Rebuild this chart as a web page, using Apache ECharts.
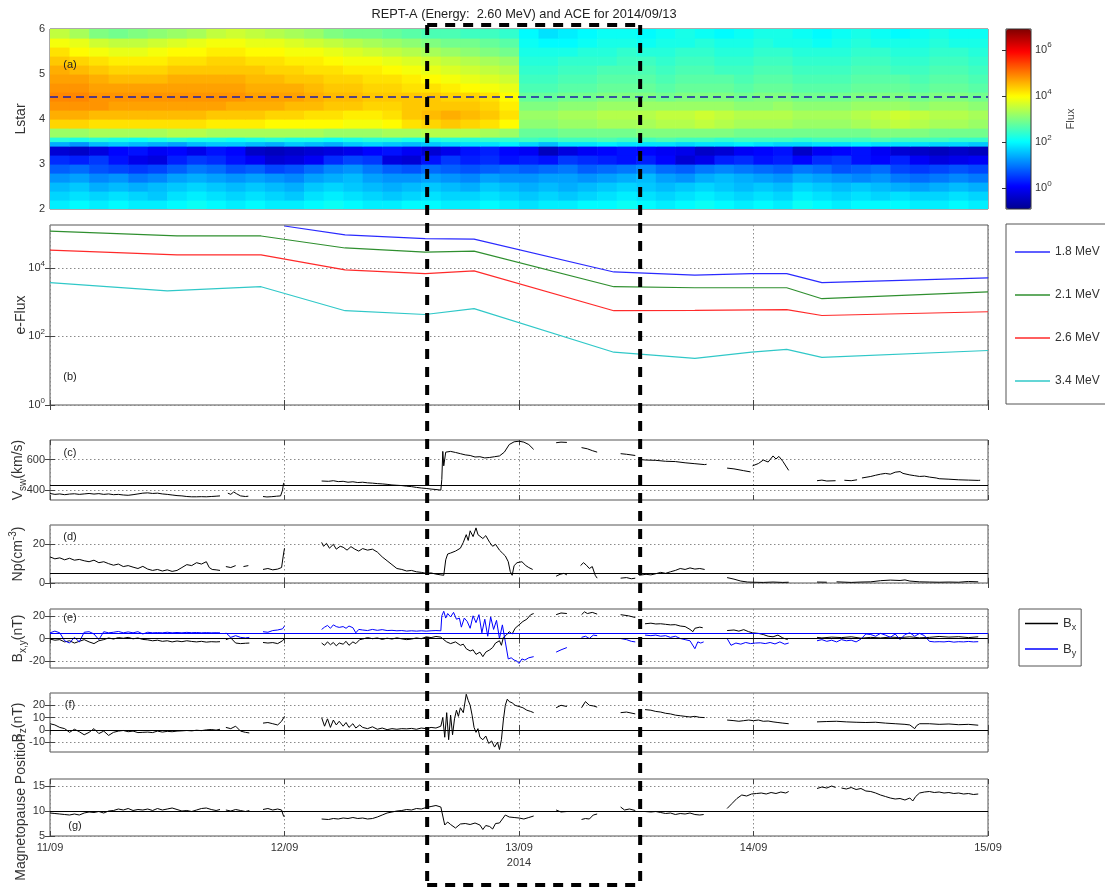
<!DOCTYPE html>
<html>
<head>
<meta charset="utf-8">
<script src="https://cdn.jsdelivr.net/npm/echarts@6/dist/echarts.min.js"></script>
<style>html,body{margin:0;padding:0;background:#fff}#chart{width:1105px;height:891px}</style>
</head>
<body>
<div id="chart"></div>
<script>
// ---------------- DATA ----------------
const titleText = 'REPT-A (Energy:  2.60 MeV) and ACE for 2014/09/13';
const dayTickHours = [0, 24, 48, 72, 96];
const dayTickLabels = ['11/09', '12/09', '13/09', '14/09', '15/09'];
const yearLabel = '2014';
const panelTags = ['(a)', '(b)', '(c)', '(d)', '(e)', '(f)', '(g)'];

// (a) Lstar vs time, log10(flux)
const lstarTicks = [2, 3, 4, 5, 6];
const lstarRef = 4.5;
const lstarEdges = [2.0, 2.2, 2.4, 2.6, 2.8, 3.0, 3.2, 3.4, 3.5, 3.6, 3.8, 4.0, 4.2, 4.4, 4.6, 4.8, 5.0, 5.2, 5.4, 5.6, 5.8, 6.0];
const fluxBinStartHours = [0,2,4,6,8,10,12,14,16,18,20,22,24,26,28,30,32,34,36,38,40,42,44,46,48,50,52,54,56,58,60,62,64,66,68,70,72,74,76,78,80,82,84,86,88,90,92,94];
const fluxBinHours = 2;
const fluxLogRows = [
  /* L 2.0-2.2 */ [1.9,2.0,1.9,2.0,1.9,1.9,2.0,2.1,2.0,1.9,2.0,1.9,1.9,2.0,2.1,2.0,1.9,1.9,2.0,2.0,1.9,1.9,2.0,1.9, 1.8,1.9,1.9,2.0,2.0,2.1,2.0,1.9,2.0,2.1,2.0,1.9,2.0,1.9,2.1,2.0,1.9,2.0,2.0,2.0,1.9,1.9,2.0,1.9],
  /* L 2.2-2.4 */ [1.7,1.8,1.7,1.8,1.7,1.6,1.8,1.9,1.8,1.7,1.8,1.7,1.6,1.8,1.9,1.8,1.7,1.6,1.7,1.8,1.7,1.7,1.8,1.7, 1.6,1.7,1.6,1.7,1.8,1.9,1.8,1.7,1.8,1.9,1.8,1.7,1.8,1.7,1.9,1.8,1.7,1.8,1.7,1.8,1.7,1.7,1.8,1.7],
  /* L 2.4-2.6 */ [1.5,1.6,1.4,1.5,1.4,1.5,1.6,1.7,1.6,1.5,1.6,1.5,1.4,1.6,1.7,1.6,1.5,1.4,1.5,1.6,1.5,1.4,1.6,1.5, 1.4,1.5,1.4,1.5,1.6,1.7,1.6,1.5,1.6,1.7,1.6,1.5,1.6,1.5,1.7,1.6,1.5,1.6,1.5,1.4,1.3,1.4,1.5,1.4],
  /* L 2.6-2.8 */ [1.2,1.3,1.1,1.2,1.0,1.1,1.3,1.4,1.3,1.2,1.3,1.2,1.1,1.3,1.4,1.5,1.3,1.2,1.2,1.3,1.2,1.1,1.3,1.2, 1.2,1.3,1.3,1.2,1.3,1.4,1.5,1.3,1.2,1.4,1.5,1.4,1.3,1.2,1.4,1.3,1.2,1.1,1.2,1.0,0.9,1.0,1.1,1.0],
  /* L 2.8-3.0 */ [0.8,0.9,0.7,0.6,0.5,0.6,0.8,1.0,0.9,0.7,0.8,0.6,0.7,0.9,1.1,1.2,1.0,0.8,0.7,0.9,0.8,0.7,0.8,0.9, 0.8,0.9,1.0,0.8,0.9,1.0,1.1,0.9,0.8,1.0,1.1,1.0,0.9,0.8,1.0,0.9,0.7,0.8,0.9,0.6,0.5,0.6,0.7,0.6],
  /* L 3.0-3.2 */ [0.4,0.3,0.5,0.2,-0.1,-0.2,0.3,0.5,0.4,0.2,0.0,-0.3,-0.2,0.0,0.4,0.6,0.5,-0.2,-0.3,0.2,0.5,0.3,0.4,0.2, 0.3,0.2,0.5,0.4,0.3,0.2,0.3,0.1,-0.3,-0.1,0.3,0.4,0.2,0.3,0.1,0.4,0.5,0.2,0.1,0.3,0.0,-0.2,-0.1,0.0],
  /* L 3.2-3.4 */ [-0.3,-0.4,-0.2,0.1,0.2,0.0,0.1,-0.1,0.2,0.1,-0.4,-0.5,-0.4,-0.3,-0.2,-0.1,0.1,0.2,0.0,-0.3,-0.1,0.2,0.3,0.1, 0.0,-0.5,-0.2,0.0,0.1,0.2,0.1,0.0,-0.1,-0.4,-0.3,0.0,0.1,0.2,-0.4,0.0,0.1,0.2,0.0,-0.3,-0.4,-0.5,-0.4,-0.5],
  /* L 3.4-3.5 */ [1.4,1.2,1.5,1.6,1.5,1.4,1.3,1.5,1.6,1.6,1.5,1.4,1.6,1.5,1.4,1.6,1.7,1.6,1.5,1.6,1.7,1.8,1.8,1.9, 1.7,1.5,1.8,1.8,1.9,1.8,1.8,1.8,1.7,1.8,1.8,1.9,1.8,1.7,1.7,1.8,1.8,1.9,1.8,1.8,1.8,1.7,1.7,1.6],
  /* L 3.5-3.6 */ [2.3,2.2,2.3,2.2,2.1,2.2,2.3,2.2,2.2,2.1,2.2,2.3,2.2,2.2,2.1,2.2,2.3,2.3,2.2,2.2,2.3,2.3,2.4,2.4, 2.5,2.4,2.5,2.5,2.6,2.5,2.5,2.6,2.5,2.5,2.4,2.5,2.5,2.5,2.4,2.5,2.5,2.5,2.6,2.5,2.5,2.5,2.4,2.4],
  /* L 3.6-3.8 */ [3.2,3.2,3.3,3.3,3.3,3.3,3.4,3.4,3.3,3.3,3.3,3.3,3.3,3.3,3.2,3.2,3.2,3.3,3.3,3.4,3.4,3.4,3.3,3.2, 2.8,2.8,2.9,2.9,2.9,2.9,3.0,3.0,3.0,3.0,3.0,2.9,2.9,2.9,2.9,2.9,2.9,2.9,3.0,3.0,3.0,2.9,2.9,2.9],
  /* L 3.8-4.0 */ [4.3,4.3,4.2,4.2,4.2,4.2,4.2,4.2,4.1,4.1,4.1,4.0,4.0,4.0,4.0,3.9,3.9,4.0,4.2,4.3,4.4,4.3,4.2,4.0, 3.1,3.1,3.2,3.2,3.3,3.3,3.3,3.4,3.4,3.5,3.4,3.3,3.3,3.3,3.2,3.2,3.2,3.3,3.4,3.5,3.4,3.3,3.3,3.2],
  /* L 4.0-4.2 */ [4.6,4.6,4.5,4.5,4.5,4.5,4.5,4.5,4.4,4.4,4.4,4.3,4.3,4.2,4.2,4.1,4.1,4.2,4.4,4.5,4.6,4.5,4.4,4.2, 3.2,3.2,3.3,3.3,3.4,3.4,3.4,3.5,3.5,3.6,3.5,3.4,3.4,3.4,3.3,3.3,3.3,3.4,3.5,3.6,3.5,3.4,3.4,3.3],
  /* L 4.2-4.4 */ [4.8,4.8,4.8,4.7,4.7,4.7,4.7,4.7,4.7,4.6,4.6,4.6,4.5,4.5,4.4,4.4,4.3,4.3,4.4,4.4,4.4,4.4,4.3,4.1, 3.0,3.0,3.1,3.1,3.2,3.2,3.2,3.2,3.2,3.2,3.2,3.1,3.1,3.2,3.1,3.1,3.1,3.2,3.2,3.2,3.1,3.2,3.2,3.1],
  /* L 4.4-4.6 */ [4.9,4.9,4.8,4.8,4.8,4.8,4.8,4.8,4.8,4.8,4.7,4.7,4.7,4.6,4.5,4.5,4.4,4.4,4.4,4.4,4.3,4.3,4.2,4.0, 2.8,2.8,2.9,2.9,3.0,3.0,3.0,2.9,3.0,3.0,3.0,2.9,3.0,3.0,2.9,2.9,2.9,3.0,3.0,3.0,2.9,3.0,3.0,2.9],
  /* L 4.6-4.8 */ [4.8,4.8,4.7,4.7,4.7,4.7,4.7,4.7,4.7,4.7,4.6,4.6,4.6,4.5,4.4,4.4,4.3,4.3,4.2,4.2,4.1,4.0,3.9,3.8, 2.6,2.6,2.7,2.7,2.8,2.8,2.8,2.7,2.8,2.8,2.8,2.7,2.8,2.8,2.7,2.7,2.7,2.8,2.8,2.8,2.7,2.8,2.8,2.7],
  /* L 4.8-5.0 */ [4.7,4.7,4.6,4.5,4.5,4.5,4.6,4.6,4.6,4.6,4.5,4.5,4.4,4.4,4.3,4.3,4.2,4.2,4.1,4.0,3.9,3.8,3.7,3.6, 2.5,2.5,2.6,2.6,2.7,2.7,2.7,2.6,2.7,2.7,2.7,2.6,2.7,2.7,2.6,2.6,2.6,2.7,2.7,2.7,2.6,2.7,2.7,2.6],
  /* L 5.0-5.2 */ [4.6,4.5,4.4,4.3,4.3,4.3,4.4,4.4,4.4,4.4,4.4,4.3,4.3,4.2,4.2,4.1,4.1,4.0,3.9,3.8,3.7,3.6,3.5,3.4, 2.4,2.4,2.5,2.5,2.6,2.6,2.6,2.5,2.6,2.6,2.5,2.5,2.6,2.6,2.5,2.5,2.5,2.6,2.6,2.5,2.5,2.6,2.6,2.5],
  /* L 5.2-5.4 */ [4.4,4.3,4.2,4.1,4.1,4.1,4.2,4.2,4.3,4.3,4.2,4.2,4.1,4.1,4.0,3.9,3.9,3.8,3.7,3.6,3.5,3.4,3.3,3.2, 2.3,2.3,2.4,2.4,2.4,2.5,2.5,2.4,2.5,2.5,2.4,2.4,2.5,2.5,2.4,2.4,2.4,2.5,2.5,2.4,2.4,2.5,2.5,2.4],
  /* L 5.4-5.6 */ [4.2,4.0,3.9,3.8,3.8,3.9,4.0,4.0,4.1,4.1,4.0,4.0,3.9,3.9,3.8,3.7,3.6,3.5,3.4,3.3,3.2,3.1,3.0,2.9, 2.2,2.2,2.2,2.3,2.3,2.4,2.3,2.3,2.4,2.4,2.3,2.3,2.4,2.4,2.3,2.3,2.3,2.4,2.4,2.3,2.3,2.4,2.4,2.3],
  /* L 5.6-5.8 */ [3.9,3.8,3.6,3.5,3.5,3.6,3.7,3.8,3.9,3.9,3.8,3.8,3.7,3.6,3.5,3.4,3.3,3.2,3.1,3.0,2.9,2.9,2.8,2.7, 2.1,2.0,2.0,2.1,2.2,2.2,2.1,2.2,2.2,2.3,2.2,2.2,2.3,2.2,2.2,2.1,2.2,2.3,2.2,2.2,2.2,2.3,2.2,2.2],
  /* L 5.8-6.0 */ [3.5,3.3,3.0,2.9,3.0,3.1,3.2,3.3,3.5,3.6,3.5,3.4,3.3,3.2,3.0,2.9,2.9,2.8,2.7,2.6,2.6,2.5,2.5,2.4, 2.0,1.8,1.9,2.0,2.1,2.1,2.0,2.1,2.2,2.1,2.0,2.1,2.2,2.2,2.1,2.0,2.1,2.2,2.1,2.0,2.1,2.2,2.1,2.1]
];
const fluxLogMin = -0.9, fluxLogMax = 6.9;
const colorbarTicks = [0, 2, 4, 6];

// (b) electron flux, log10 values at orbit knots (hours)
const efluxTicks = [0, 2, 4];
const efluxLogMax = 5.25;
const eflux18Hours = [24, 30.2, 38.4, 43.4, 57.7, 66, 71.8, 75.4, 79, 96];
const eflux18Log = [5.22, 4.96, 4.85, 4.84, 3.88, 3.79, 3.83, 3.83, 3.57, 3.71];
const eflux21Hours = [0, 13, 21.6, 30.2, 38.4, 43.4, 57.7, 66, 75.4, 79, 96];
const eflux21Log = [5.07, 4.93, 4.93, 4.58, 4.46, 4.49, 3.45, 3.42, 3.42, 3.10, 3.30];
const eflux26Hours = [0, 13, 21.6, 30.2, 38.4, 43.4, 57.7, 66, 75.4, 79, 96];
const eflux26Log = [4.52, 4.38, 4.38, 3.94, 3.83, 3.91, 2.75, 2.76, 2.78, 2.61, 2.72];
const eflux34Hours = [0, 12, 21.6, 30.2, 38.4, 43.4, 57.7, 66, 71.8, 75.4, 79, 96];
const eflux34Log = [3.57, 3.33, 3.45, 2.75, 2.64, 2.81, 1.54, 1.36, 1.54, 1.62, 1.39, 1.59];
const efluxNames = ['1.8 MeV', '2.1 MeV', '2.6 MeV', '3.4 MeV'];

// (c) solar wind speed [hour, km/s]
const vswTicks = [400, 600];
const vswRange = [335, 730];
const vswRef = 430;
const vswData = [[0,378],[0.5,372],[1,375],[1.5,370],[2,374],[2.5,376],[3,372],[3.5,375],[4,378],[4.5,374],[5,377],[5.5,372],[6,375],[6.5,370],[7,372],[7.5,368],[8,366],[8.5,370],[9,375],[9.5,380],[10,382],[10.5,378],[11,380],[11.5,375],[12,372],[12.5,368],[13,364],[13.5,362],[14,358],[14.5,356],[15,356],[15.5,357],[16,356],[16.5,358],[17,360],[17.4,362],[17.5,null],[18.2,380],[18.5,372],[18.8,388],[19.1,376],[19.5,362],[20,358],[20.3,360],[20.4,null],[21.8,358],[22.2,355],[22.7,357],[23.2,360],[23.6,362],[23.8,400],[23.9,445],[24,442],[24.1,null],
  [27.8,460],[28.5,458],[29,462],[29.5,456],[30,458],[30.5,452],[31,455],[31.5,450],[32,452],[32.5,448],[33,446],[33.5,443],[34,441],[34.5,438],[35,434],[35.5,432],[36,430],[36.5,426],[37,423],[37.5,418],[38,414],[38.5,411],[39,407],[39.5,404],[40,400],[40.1,470],[40.2,655],[40.3,560],[40.5,650],[41,655],[41.5,648],[42,640],[42.5,632],[43,628],[43.5,618],[44,620],[44.5,612],[45,615],[45.5,620],[46,625],[46.5,650],[47,700],[47.5,718],[48,722],[48.5,716],[49,700],[49.5,668],[49.6,null],
  [51.8,712],[52.3,716],[52.9,714],[53,null],[54.4,680],[55,672],[55.5,660],[56,650],[56.1,null],[58.4,640],[59,636],[59.9,628],[60,null],[60.2,602],[61,598],[62,596],[63,590],[64,588],[65,580],[66,574],[67,568],[67.2,570],[67.3,null],[69.3,545],[70,540],[71,528],[71.7,520],[71.8,null],[71.9,560],[72.5,575],[73,598],[73.5,585],[74,625],[74.3,605],[74.6,622],[75,590],[75.6,530],[75.7,null],[78.5,462],[79,466],[79.5,460],[80.4,462],[80.5,null],[81.3,465],[82,462],[82.6,468],[82.7,null],[83.1,480],[84,490],[84.5,498],[85,505],[85.5,510],[86,505],[86.5,518],[87,522],[87.3,510],[88,500],[88.5,495],[89,490],[89.5,492],[90,486],[90.7,480],[91,475],[92,472],[93,468],[94,466],[95,464],[95.2,465]];

// (d) proton density [hour, cm^-3]
const npTicks = [0, 20];
const npRange = [0, 30];
const npRef = 5;
const npData = [[0,13.5],[0.5,12.5],[1,13],[1.5,12],[2,12.8],[2.5,11.8],[3,12.2],[3.5,11.5],[4,11],[4.5,11.8],[5,10.5],[5.5,11],[6,10],[6.5,9.2],[7,9.8],[7.5,8.5],[8,9],[8.5,8.2],[9,7.5],[9.5,8.6],[10,7.2],[10.5,6.5],[11,7],[11.5,6.2],[12,6.8],[12.5,6],[13,6.5],[13.5,8],[14,9.5],[14.5,9],[15,10.5],[15.5,9.8],[16,11],[16.3,8],[16.6,7],[17,6.8],[17.4,6.5],[17.5,null],[18,8.5],[18.5,8],[19,9],[19.5,null],[19.8,8.5],[20.3,9],[20.5,null],[21.8,7],[22.3,7.5],[22.8,6.8],[23.3,7.2],[23.7,8],[23.9,15],[24,18],[24.1,null],
  [27.8,21],[28,19],[28.3,20.5],[28.6,18],[29,20],[29.3,17.5],[29.7,19],[30,18.5],[30.4,17],[30.8,18.8],[31.2,17.5],[31.6,16.5],[32,17.8],[32.5,17],[33,17.5],[33.5,16],[34,13.5],[34.5,11.5],[35,9.5],[35.5,7.5],[36,7],[36.5,6.2],[37,6.5],[37.5,5.8],[38,5.5],[38.5,5],[39,5.2],[39.5,4.6],[40,4.2],[40.3,4],[40.5,12],[40.7,15],[41,15.5],[41.5,16.5],[42,18],[42.3,21],[42.6,25],[42.8,22],[43,27],[43.3,24],[43.6,28.5],[43.8,25],[44,26],[44.3,23],[44.6,24.5],[45,21],[45.3,19],[45.6,20],[46,17],[46.3,15.5],[46.6,14],[46.9,11],[47.1,6],[47.3,4],[47.5,9],[47.8,10.5],[48,9.5],[48.3,11],[48.7,9],[49,8],[49.4,7],[49.5,null],
  [51.8,3.5],[52.2,4.5],[52.6,5],[52.9,4.2],[53,null],[54.3,9],[54.6,10.5],[54.9,9.2],[55.2,7.5],[55.5,8.5],[55.8,4],[56,2.5],[56.1,null],[58.4,2.5],[59,2.8],[59.5,2.2],[59.9,2.5],[60,null],[60.3,4],[61,4.5],[61.5,4.2],[62,4.8],[62.5,5.5],[63,5],[63.5,5.8],[64,6.5],[64.5,7.5],[65,7],[65.5,7.8],[66,7.2],[66.5,7.5],[67,7],[67.2,null],[69.3,2.8],[70,2],[70.7,1],[71.4,0.5],[72,0.4],[73,0.3],[74,0.5],[75,0.3],[75.6,0.4],[75.7,null],[78.5,0.5],[79.5,0.4],[80,null],[80.5,0.6],[82,0.3],[83,0.5],[84,0.6],[85,1.2],[86,1.5],[87,1.3],[87.5,1.6],[88,1],[89,0.6],[90,0.5],[91,0.4],[92,0.5],[93,0.4],[94,0.8],[95,0.6]];

// (e) IMF Bx, By [hour, nT]
const bxyTicks = [-20, 0, 20];
const bxyRange = [-26, 26];
const bxRef = 0, byRef = 4.5;
const bxData = [[0,-0.5],[0.5,-1.5],[1,-1],[1.5,-3],[2,-2],[2.5,-4],[3,-2.5],[3.5,-1],[4,-3],[4.5,-4.5],[5,-2],[5.5,-1],[6,0.5],[6.5,-0.5],[7,0.8],[7.5,0.2],[8,1],[8.5,-0.3],[9,0.5],[9.5,-0.8],[10,-1.2],[10.5,-2],[11,-1.5],[11.5,-2.5],[12,-2],[12.5,-3],[13,-2.2],[13.5,-2.8],[14,-2],[14.5,-2.6],[15,-3],[15.5,-2.5],[16,-3.2],[16.5,-2.8],[17,-3],[17.4,-2.8],[17.5,null],[18,-1],[18.5,0.5],[19,-4],[19.5,-4.5],[20,-4.2],[20.4,-4],[20.5,null],[21.8,-3.5],[22.3,-4],[22.8,-3.6],[23.3,-4.5],[23.8,-2],[24,0],[24.1,null],
  [27.8,-4],[28.1,-6],[28.4,-3],[28.7,-5.5],[29,-3.5],[29.3,-6.5],[29.6,-4],[30,-5],[30.3,-2.5],[30.6,-6],[31,-3],[31.3,-4.5],[31.7,-1],[32,-0.5],[32.5,0.8],[33,-0.2],[33.5,0.5],[34,-0.8],[34.5,0.3],[35,-0.5],[35.5,0.6],[36,-0.3],[36.5,-1],[37,-0.5],[37.5,0.5],[38,-0.2],[38.5,1.5],[39,0.8],[39.5,1.8],[40,1.2],[40.3,-1],[40.6,-3],[41,-4.5],[41.5,-3],[42,-6],[42.3,-5],[42.6,-9],[43,-11],[43.3,-10],[43.6,-14],[44,-12],[44.3,-16],[44.6,-12],[45,-10],[45.3,-8],[45.6,-4],[46,-2],[46.2,-6],[46.4,1],[46.7,3],[47,6],[47.3,4],[47.6,9],[48,12],[48.4,15],[48.8,17],[49.2,21],[49.5,22],[49.6,null],
  [51.8,21],[52.3,22.5],[52.9,22],[53,null],[54.4,21],[54.7,23.5],[55,22],[55.5,23],[56,21.5],[56.1,null],[58.4,21],[59.2,20],[59.9,18.5],[60,null],[60.9,13],[61.5,13.5],[62,12.8],[62.5,13],[63,12.5],[63.5,12],[64,12.2],[64.5,11],[65,10.5],[65.5,8],[65.8,6],[66,9],[66.5,10],[66.8,9.5],[66.9,null],[69.3,7],[70,7.5],[70.5,6.5],[71,7.8],[71.5,6],[71.9,5],[72.5,4.5],[73,3.5],[73.5,2],[74,1.5],[74.5,3],[75,0.5],[75.5,-1],[75.6,null],[78.5,1],[79,0.5],[80,1.2],[81,0.8],[82,1.5],[83,0.3],[84,1],[85,0.5],[86,1.2],[87,0.8],[88,1.5],[89,0.6],[90,1],[91,1.8],[92,1.2],[93,1.6],[94,0.8],[95,1.5]];
const byData = [[0,5],[0.5,6.5],[1,5],[1.5,-2],[2,-4],[2.5,1],[3,-3],[3.5,5.5],[4,6],[4.5,4],[5,-1],[5.5,6],[6,5],[6.5,5.5],[7,6.2],[7.5,5],[8,5.8],[8.5,5],[9,6],[9.5,4],[10,5.5],[10.5,5],[11,5.2],[11.5,5],[12,5.5],[12.5,5],[13,5.3],[13.5,5],[14,5.4],[14.5,5.1],[15,5.3],[15.5,5],[16,5.2],[16.5,5],[17,5.1],[17.4,5],[17.5,null],[18,5],[18.5,1],[19,2.5],[19.5,1],[20,0.5],[20.4,1],[20.5,null],[21.8,6],[22.3,5.5],[22.8,7],[23.3,7.5],[23.8,8.5],[24,11],[24.1,null],
  [27.8,8],[28.1,10],[28.4,11.5],[28.7,9],[29,12],[29.3,10.5],[29.6,9.8],[30,10.5],[30.3,9],[30.6,11],[31,9.5],[31.3,5],[31.6,8],[32,7.5],[32.5,7],[33,8],[33.5,7.2],[34,7.8],[34.5,7],[35,7.2],[35.5,6.8],[36,7],[36.5,6.5],[37,6.8],[37.5,6.5],[38,6.8],[38.5,6.5],[39,6.8],[39.5,7],[40,6.8],[40.1,20],[40.3,24],[40.5,18],[40.7,22],[41,19],[41.3,23],[41.6,17],[41.9,18],[42.1,10],[42.4,18],[42.7,15],[43,9],[43.3,20],[43.6,14],[43.9,21],[44.2,5],[44.5,17],[44.8,2],[45.1,19],[45.4,8],[45.7,16],[46,0],[46.3,12],[46.6,-3],[46.9,-18],[47.2,-17],[47.5,-19],[47.8,-20],[48,-22],[48.3,-18],[48.6,-19],[49,-17],[49.5,-16],[49.6,null],
  [51.8,-12],[52.3,-10],[52.9,-8],[53,null],[54.4,1],[54.8,2],[55.2,0],[55.6,3],[56,2.5],[56.1,null],[58.4,0],[59,-1],[59.5,-2.5],[59.9,-3],[60,null],[60.9,3],[61.5,2.5],[62,3],[62.5,2],[63,2.5],[63.5,1],[64,2],[64.5,0],[65,-1],[65.5,-2],[66,-9],[66.3,-3],[66.6,-4],[66.9,-3],[67,null],[69.3,0],[69.7,-6],[70.2,-4],[70.7,-5],[71.2,-3.5],[71.7,-4.5],[72.2,-4],[72.7,-3.8],[73.2,-4.5],[73.7,-3.5],[74.2,-4.8],[74.7,-3],[75.2,-5],[75.6,-4],[75.7,null],[78.5,-2],[79,-1],[79.5,-2.5],[80,-1.5],[80.5,-3],[81,-1],[81.5,-2],[82,-1.5],[82.5,-3],[83,-0.5],[83.5,4],[84,3.5],[84.5,2],[85,4.5],[85.5,3],[86,1],[86.5,4],[87,-1],[87.5,3.5],[88,5],[88.5,2],[89,4.5],[89.5,2.5],[90,-2.5],[90.5,-3],[91,-2.8],[91.5,-3],[92,-2.5],[92.5,-3.2],[93,-2.8],[93.5,-3],[94,-2.6],[94.5,-3],[95,-2.8]];
const bxyNames = ['Bx', 'By'];

// (f) IMF Bz [hour, nT]
const bzTicks = [-10, 0, 10, 20];
const bzRange = [-18, 30];
const bzRef = 0;
const bzData = [[0,5],[0.5,4],[1,2],[1.5,1],[2,-2],[2.5,0.5],[3,-1.5],[3.5,-4],[4,-2],[4.5,1],[5,-3],[5.5,-1],[6,-4.5],[6.5,-2],[7,-1],[7.5,-0.5],[8,-1.5],[8.5,-1],[9,-2.2],[9.5,-2],[10,-1.8],[10.5,-2.2],[11,-1],[11.5,-1.8],[12,-1.2],[12.5,-1.5],[13,-1],[13.5,-0.8],[14,-0.5],[14.5,-0.8],[15,-0.3],[15.5,-0.6],[16,0],[16.5,0.3],[17,-0.2],[17.4,0.5],[17.5,null],[18,2],[18.5,1],[19,3],[19.5,-1],[20,-2],[20.4,-2.5],[20.5,null],[21.8,5.5],[22.3,6],[22.8,5],[23.3,4],[23.7,7],[24,11],[24.1,null],
  [27.8,10],[28.1,3],[28.4,9],[28.7,2],[29,8],[29.3,4],[29.6,7],[30,3],[30.3,6],[30.6,2],[31,5],[31.3,1.5],[31.7,4],[32,2],[32.5,1],[33,2.5],[33.5,0.5],[34,1.5],[34.5,0.2],[35,1],[35.5,0.5],[36,1],[36.5,0.8],[37,1.2],[37.5,0.5],[38,1.5],[38.5,1],[39,2],[39.5,1.5],[40,3],[40.2,10],[40.4,-6],[40.6,14],[40.8,-8],[41,12],[41.2,-4],[41.4,9],[41.6,16],[41.8,11],[42,18],[42.3,14],[42.6,29],[42.8,24],[43,20],[43.2,12],[43.4,2],[43.6,-2],[43.8,1],[44,-6],[44.3,-8],[44.6,-5],[44.9,-11],[45.2,-9],[45.5,-14],[45.8,-10],[46,-16],[46.2,-8],[46.4,8],[46.6,20],[46.8,25],[47,23],[47.3,22],[47.6,20],[48,19],[48.4,18],[48.8,16],[49.2,15],[49.5,14],[49.6,null],
  [51.8,18],[52.3,20],[52.9,19],[53,null],[54.4,18],[54.8,23],[55.2,20],[55.6,19.5],[56,18.5],[56.1,null],[58.4,14],[59,14.5],[59.9,13],[60,null],[60.9,16.5],[61.5,16],[62,15],[62.5,14.5],[63,13.5],[63.5,13],[64,12],[64.5,11.5],[65,11],[65.5,10.5],[66,11],[66.5,10.2],[67,10],[67.1,null],[69.3,8],[70,7.5],[70.5,7],[71,7.5],[71.5,8],[72,7.5],[72.5,8],[73,7],[73.5,7.2],[74,6.5],[74.5,6],[75,5.5],[75.6,5],[75.7,null],[78.5,6.5],[79.5,6.8],[80.5,7],[81.5,6.5],[82.5,6.2],[83.5,6],[84.5,6.2],[85.5,5.5],[86.5,5],[87.5,4.5],[88,4],[88.5,1],[88.7,3.5],[89,5],[90,5],[91,4.5],[92,4.8],[93,4.2],[94,4.5],[95,3.8]];

// (g) magnetopause standoff [hour, Re]
const mpTicks = [5, 10, 15];
const mpRange = [5, 16.4];
const mpRef = 10;
const mpData = [[0,9.6],[0.5,9.5],[1,9.4],[1.5,9.3],[2,9.2],[2.5,9.4],[3,9.2],[3.5,9.6],[4,9.8],[4.5,9.7],[5,9.9],[5.5,9.6],[6,10],[6.5,10.1],[7,10.4],[7.5,10.2],[8,10.5],[8.5,10.1],[9,10.3],[9.5,10.2],[10,10.4],[10.5,10.1],[11,10.5],[11.5,10.2],[12,10.4],[12.5,10.6],[13,10.3],[13.5,10],[14,10.1],[14.5,9.9],[15,10.2],[15.5,10.5],[16,10.6],[16.5,10.3],[17,10.1],[17.4,10.3],[17.5,null],[18,10.2],[18.5,10],[19,10.3],[19.5,10.1],[20,9.9],[20.4,10.1],[20.5,null],[21.8,10.3],[22.3,10.5],[22.8,10.2],[23.3,10.4],[23.7,10.2],[23.9,9],[24,8.8],[24.1,null],
  [27.8,8.4],[28.5,8.3],[29,8.5],[29.5,8.4],[30,8.6],[30.5,8.5],[31,8.7],[31.5,8.5],[32,8.6],[32.5,8.4],[33,8.5],[33.5,8.8],[34,9.2],[34.5,9.6],[35,9.8],[35.5,10],[36,10.1],[36.5,10.3],[37,10.2],[37.5,10.5],[38,10.4],[38.5,10.7],[39,10.9],[39.5,11.1],[40,10.8],[40.2,9],[40.4,7.2],[40.7,7.8],[41,7.3],[41.5,6.6],[42,7.4],[42.5,7.5],[43,7.3],[43.5,7.6],[44,7.2],[44.3,6.3],[44.6,7.1],[45,6.9],[45.3,6.4],[45.6,7.5],[46,7.6],[46.3,8.4],[46.6,9.2],[47,8.8],[47.5,8.7],[48,8.6],[48.5,8.4],[49,8.7],[49.5,9],[49.6,null],
  [51.8,10.2],[52.3,9.8],[52.9,9.9],[53,null],[54.4,8.3],[54.8,8.5],[55.2,8.4],[55.6,9.2],[56,9.4],[56.1,null],[58.4,10.8],[58.8,10.2],[59.3,10.4],[59.9,10.1],[60,null],[60.9,9.9],[61.5,9.8],[62,9.9],[62.5,9.7],[63,9.5],[63.5,9.6],[64,9.3],[64.5,9.5],[65,9.4],[65.5,9.6],[66,9.3],[66.5,9.2],[66.9,9.3],[67,null],[69.3,10.5],[69.8,11.5],[70.3,12.5],[70.8,13.2],[71.3,13],[71.8,13.4],[72.3,13.5],[72.8,13.6],[73.3,13.4],[73.8,13.7],[74.3,13.5],[74.8,13.8],[75.3,13.6],[75.6,13.9],[75.7,null],[78.5,14.5],[79,14.8],[79.5,14.6],[80,15],[80.4,14.7],[80.5,null],[81,14.6],[81.5,14.4],[82,14.7],[82.5,14.3],[83,14.5],[83.5,14],[84,13.9],[84.5,13.6],[85,13.2],[85.5,12.9],[86,12.6],[86.5,12.4],[87,12.5],[87.5,12.2],[88,12.6],[88.3,12],[88.6,12.9],[89,13.6],[89.5,13.8],[90,13.9],[90.5,13.7],[91,13.8],[91.5,13.6],[92,13.7],[92.5,13.5],[93,13.6],[93.5,13.4],[94,13.5],[94.5,13.3],[95,13.4]];

// event window (hours since 11/09 00:00)
const boxStartHour = 38.6;
const boxEndHour = 60.4;

// ---------------- LAYOUT / STYLE ----------------
const FONT = '"Liberation Sans", Arial, Helvetica, sans-serif';
const TXT = '#333';
const TICK_FS = 11;
const PLOT_LEFT = 50, PLOT_W = 938;
const grids = [
  {top: 29, height: 180},
  {top: 225, height: 180},
  {top: 440, height: 60},
  {top: 525, height: 58},
  {top: 609, height: 59},
  {top: 693, height: 59},
  {top: 779, height: 57}
];
const tagPos = [[70, 65], [70, 377], [70, 453], [70, 537], [70, 618], [70, 705], [75, 826]];
const jet = ['#00008f', '#0000ff', '#0080ff', '#00ffff', '#80ff80', '#ffff00', '#ff8000', '#ff0000', '#800000'];
const efluxColors = ['#2a2aff', '#2f8f2f', '#ff2a2a', '#30c8c8'];

const pow = (v) => '{b|10}{p|' + v + '}';
const labelRich = {
  b: {fontSize: TICK_FS, fontFamily: FONT, color: TXT, lineHeight: 17, verticalAlign: 'middle'},
  p: {fontSize: 8, fontFamily: FONT, color: TXT, lineHeight: 8, verticalAlign: 'top'}
};
const nameRich = {
  n: {fontSize: 14, fontFamily: FONT, color: TXT, lineHeight: 20, verticalAlign: 'middle'},
  s: {fontSize: 10, fontFamily: FONT, color: TXT, lineHeight: 10, verticalAlign: 'bottom'},
  p: {fontSize: 10, fontFamily: FONT, color: TXT, lineHeight: 10, verticalAlign: 'top'}
};
const dotted = {show: true, lineStyle: {color: '#8a8a8a', type: [1.5, 2.5], width: 1}};

const chart = echarts.init(document.getElementById('chart'), null, {renderer: 'canvas'});

const gridOpt = grids.map(g => ({
  left: PLOT_LEFT, top: g.top, width: PLOT_W, height: g.height,
  show: true, borderColor: '#555', borderWidth: 1, backgroundColor: 'transparent',
  containLabel: false, outerBoundsMode: 'none'
}));
gridOpt.push({left: 1006, top: 29, width: 25, height: 180, show: true, borderColor: '#333', borderWidth: 1,
  backgroundColor: 'transparent', z: 10, containLabel: false, outerBoundsMode: 'none'});

const yDefs = [
  {min: 2, max: 6, ticks: lstarTicks, name: 'Lstar', fmt: null, gap: 22},
  {min: 0, max: efluxLogMax, ticks: efluxTicks, name: 'e-Flux', fmt: pow, gap: 22},
  {min: vswRange[0], max: vswRange[1], ticks: vswTicks, name: '{n|V}{s|sw}{n|(km/s)}', fmt: null, gap: 22},
  {min: npRange[0], max: npRange[1], ticks: npTicks, name: '{n|Np(cm}{p|-3}{n|)}', fmt: null, gap: 22},
  {min: bxyRange[0], max: bxyRange[1], ticks: bxyTicks, name: '{n|B}{s|x,y}{n|(nT)}', fmt: null, gap: 22},
  {min: bzRange[0], max: bzRange[1], ticks: bzTicks, name: '{n|B}{s|z}{n|(nT)}', fmt: null, gap: 22},
  {min: mpRange[0], max: mpRange[1], ticks: mpTicks, name: 'Magnetopause Position', fmt: null, gap: 22}
];

const xAxes = [], yAxes = [];
for (let i = 0; i < 7; i++) {
  const last = i === 6;
  xAxes.push({
    type: 'value', gridIndex: i, min: 0, max: 96, position: 'bottom',
    axisLine: {show: false},
    axisTick: {show: i > 0, inside: true, length: 5, lineStyle: {color: '#444'}, customValues: dayTickHours},
    axisLabel: {show: last, customValues: dayTickHours, margin: 4, fontSize: TICK_FS, fontFamily: FONT, color: TXT, lineHeight: 15,
      formatter: v => { const k = dayTickHours.indexOf(v); return k === 2 ? dayTickLabels[k] + '\n' + yearLabel : (k >= 0 ? dayTickLabels[k] : ''); }},
    splitLine: i > 0 ? dotted : {show: false}
  });
  const d = yDefs[i];
  yAxes.push({
    type: 'value', gridIndex: i, min: d.min, max: d.max, position: 'left',
    axisLine: {show: false},
    axisTick: {show: i > 0, inside: true, length: 5, lineStyle: {color: '#444'}, customValues: d.ticks},
    axisLabel: {show: true, customValues: d.ticks, margin: 5, fontSize: TICK_FS, fontFamily: FONT, color: TXT,
      formatter: d.fmt ? d.fmt : (v => String(v)), rich: labelRich},
    splitLine: i > 0 ? dotted : {show: false},
    name: d.name, nameLocation: 'middle', nameGap: d.gap, nameMoveOverlap: false,
    nameTextStyle: {fontSize: 14, fontFamily: FONT, color: TXT, rich: nameRich}
  });
}
// colorbar axes
xAxes.push({type: 'value', gridIndex: 7, min: 0, max: 1, show: false});
yAxes.push({
  type: 'value', gridIndex: 7, min: fluxLogMin, max: fluxLogMax, position: 'right',
  axisLine: {show: false},
  axisTick: {show: true, inside: true, length: 4, lineStyle: {color: '#333'}, customValues: colorbarTicks},
  axisLabel: {show: true, customValues: colorbarTicks, margin: 4, formatter: pow, rich: labelRich, fontSize: TICK_FS, fontFamily: FONT, color: TXT},
  splitLine: {show: false},
  name: 'Flux', nameLocation: 'middle', nameGap: 34, nameMoveOverlap: false,
  nameTextStyle: {fontSize: 11, fontFamily: FONT, color: '#444'}
});
// top / right tick-only axes for panels b-g
for (let i = 1; i < 7; i++) {
  xAxes.push({type: 'value', gridIndex: i, min: 0, max: 96, position: 'top', axisLine: {show: false},
    axisTick: {show: true, inside: true, length: 5, lineStyle: {color: '#444'}, customValues: dayTickHours},
    axisLabel: {show: false}, splitLine: {show: false}});
  yAxes.push({type: 'value', gridIndex: i, min: yDefs[i].min, max: yDefs[i].max, position: 'right', axisLine: {show: false},
    axisTick: {show: true, inside: true, length: 5, lineStyle: {color: '#444'}, customValues: yDefs[i].ticks},
    axisLabel: {show: false}, splitLine: {show: false}});
}

// heatmap cells
const heatData = [];
fluxLogRows.forEach((row, r) => row.forEach((v, c) => {
  heatData.push([fluxBinStartHours[c], fluxBinStartHours[c] + fluxBinHours, lstarEdges[r], lstarEdges[r + 1], v]);
}));

const refLine = (val, color) => ({silent: true, symbol: 'none', animation: false, label: {show: false},
  lineStyle: {color: color, width: 1, type: 'solid'}, emphasis: {disabled: true}, data: [{yAxis: val}]});
const zip = (t, v) => t.map((h, k) => [h, v[k]]);
const lineSeries = (name, data, gi, color, width, extra) => Object.assign({
  type: 'line', name: name, xAxisIndex: gi, yAxisIndex: gi, data: data, symbol: 'none', showSymbol: false,
  connectNulls: false, lineStyle: {color: color, width: width}, itemStyle: {color: color}, color: color,
  animation: false, silent: true, clip: true, emphasis: {disabled: true}
}, extra || {});

const series = [
  {
    type: 'custom', name: 'flux', xAxisIndex: 0, yAxisIndex: 0, data: heatData, encode: {x: [0, 1], y: [2, 3]},
    silent: true, animation: false, clip: true,
    renderItem: (params, api) => {
      const a = api.coord([api.value(0), api.value(3)]);
      const b = api.coord([api.value(1), api.value(2)]);
      return {type: 'rect', shape: {x: a[0], y: a[1], width: b[0] - a[0] + 0.6, height: b[1] - a[1] + 0.6},
        style: {fill: api.visual('color')}};
    }
  },
  lineSeries('lref', [], 0, '#1a1a9a', 1.5, {markLine: {silent: true, symbol: 'none', animation: false, label: {show: false},
    lineStyle: {color: '#1c1ca8', width: 1.5, type: [8, 5]}, data: [{yAxis: lstarRef}]}}),
  lineSeries(efluxNames[0], zip(eflux18Hours, eflux18Log), 1, efluxColors[0], 1.2),
  lineSeries(efluxNames[1], zip(eflux21Hours, eflux21Log), 1, efluxColors[1], 1.2),
  lineSeries(efluxNames[2], zip(eflux26Hours, eflux26Log), 1, efluxColors[2], 1.2),
  lineSeries(efluxNames[3], zip(eflux34Hours, eflux34Log), 1, efluxColors[3], 1.2),
  lineSeries('vsw', vswData, 2, '#000', 1, {markLine: refLine(vswRef, '#000')}),
  lineSeries('np', npData, 3, '#000', 1, {markLine: refLine(npRef, '#000')}),
  lineSeries(bxyNames[0], bxData, 4, '#000', 1, {markLine: refLine(bxRef, '#000')}),
  lineSeries(bxyNames[1], byData, 4, '#0000ff', 1, {markLine: refLine(byRef, '#0000ff')}),
  lineSeries('bz', bzData, 5, '#000', 1, {markLine: refLine(bzRef, '#000')}),
  lineSeries('mp', mpData, 6, '#000', 1, {markLine: refLine(mpRef, '#000')})
];

const option = {
  animation: false,
  backgroundColor: '#fff',
  title: {text: titleText, left: 519, top: 3, textAlign: 'center',
    textStyle: {fontSize: 12.8, fontWeight: 'normal', fontFamily: FONT, color: '#222'}},
  grid: gridOpt,
  xAxis: xAxes,
  yAxis: yAxes,
  visualMap: {
    type: 'continuous', min: fluxLogMin, max: fluxLogMax, dimension: 4, seriesIndex: 0,
    left: 1006, top: 29, itemWidth: 25, itemHeight: 180, padding: 0, calculable: false, text: ['', ''],
    showLabel: false, hoverLink: false, realtime: false, inRange: {color: jet}, orient: 'vertical'
  },
  legend: [
    {data: efluxNames, orient: 'vertical', left: 1006, top: 224, padding: [21, 60, 16, 9], itemGap: 29,
      icon: 'rect', itemWidth: 35, itemHeight: 1.5, borderColor: '#555', borderWidth: 1, selectedMode: false,
      textStyle: {fontSize: 12, fontFamily: FONT, color: TXT, lineHeight: 14}},
    {data: bxyNames, orient: 'vertical', left: 1019, top: 609, padding: [8, 5, 8, 6], itemGap: 10,
      icon: 'rect', itemWidth: 33, itemHeight: 1.5, borderColor: '#555', borderWidth: 1, selectedMode: false,
      formatter: n => '{n|B}{s|' + n.slice(1) + '}',
      textStyle: {fontSize: 13, fontFamily: FONT, color: TXT, rich: {
        n: {fontSize: 13, fontFamily: FONT, color: TXT, lineHeight: 18, verticalAlign: 'middle'},
        s: {fontSize: 9, fontFamily: FONT, color: TXT, lineHeight: 9, verticalAlign: 'bottom'}}}}
  ],
  series: series
};
chart.setOption(option);

// panel tags + dashed event box
const x0 = chart.convertToPixel({xAxisIndex: 0}, boxStartHour);
const x1 = chart.convertToPixel({xAxisIndex: 0}, boxEndHour);
const yTop = 25, yBot = 885;
const dash = {stroke: '#000', lineWidth: 4, lineDash: [10, 8]};
const graphics = panelTags.map((t, k) => ({type: 'text', x: tagPos[k][0], y: tagPos[k][1], z: 50, silent: true,
  style: {text: t, font: '11px ' + FONT, fill: '#222', align: 'center', verticalAlign: 'middle'}}));
graphics.push(
  {type: 'line', z: 100, silent: true, shape: {x1: x0, y1: yTop, x2: x1, y2: yTop}, style: dash},
  {type: 'line', z: 100, silent: true, shape: {x1: x0, y1: yBot, x2: x1, y2: yBot}, style: dash},
  {type: 'line', z: 100, silent: true, shape: {x1: x0, y1: yTop, x2: x0, y2: yBot}, style: dash},
  {type: 'line', z: 100, silent: true, shape: {x1: x1, y1: yTop, x2: x1, y2: yBot}, style: dash}
);
chart.setOption({graphic: graphics});
</script>
</body>
</html>
